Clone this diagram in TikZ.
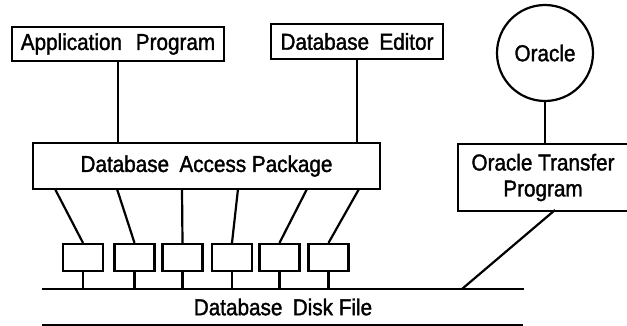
\documentclass[tikz,border=0pt]{standalone}
\usepackage{fontspec}
\setmainfont{Liberation Sans}[FakeStretch=0.9,FakeBold=1.5]
\begin{document}
\begin{tikzpicture}[x=1pt,y=-1pt,line width=2.2pt,
  lbl/.style={font=\fontsize{23}{26}\selectfont},
  box/.style={draw,rectangle,inner sep=0pt,lbl},
  unit/.style={draw,rectangle,inner sep=0pt,minimum width=40pt,minimum height=27pt}]
\useasboundingbox (0,0) rectangle (627,326);
% top boxes
\node[box,minimum width=212pt,minimum height=34pt] (app) at (118,44) {Application\hspace{0.6em}Program};
\node[box,minimum width=172pt,minimum height=35pt] (edit) at (357,41.5) {Database\hspace{0.45em}Editor};
\node[box,minimum width=347pt,minimum height=46pt] (dap) at (206.5,166) {Database\hspace{0.45em}Access Package};
% oracle
\node[draw,circle,minimum size=96pt,inner sep=0pt,lbl] (ora) at (545,53) {Oracle};
\node[lbl,minimum width=168pt,minimum height=65pt,inner sep=0pt,align=center] (otp) at (543,177.5) {Oracle Transfer\\Program};
\draw (otp.north east) -- (otp.north west) -- (otp.south west) -- (otp.south east);
\draw (ora.south) -- (ora.south |- otp.north);
% connectors top
\draw (app.south) -- (app.south |- dap.north);
\draw (edit.south) -- (edit.south |- dap.north);
% units
\foreach \i/\x in {1/83,2/134.5,3/182.5,4/232,5/279.5,6/328.5}{
  \node[unit] (s\i) at (\x,257.5) {};
}
\foreach \i/\x in {1/55,2/117,3/182,4/238,5/307,6/359}{
  \coordinate (d\i) at (\x,189);
  \draw (d\i) -- (s\i.north);
}
% bus
\coordinate (busL) at (42,289);
\coordinate (busR) at (524,289);
\coordinate (busL2) at (42,325);
\coordinate (busR2) at (523,325);
\draw (busL) -- (busR);
\draw (busL2) -- (busR2);
\node[lbl] (disk) at (283,307) {Database\hspace{0.45em}Disk File};
\foreach \i in {1,...,6}{
  \draw (s\i.south) -- (s\i.south |- busL);
}
\coordinate (otpb) at (555,210);
\coordinate (busT) at (462,289);
\draw (otpb) -- (busT);
\end{tikzpicture}
\end{document}
